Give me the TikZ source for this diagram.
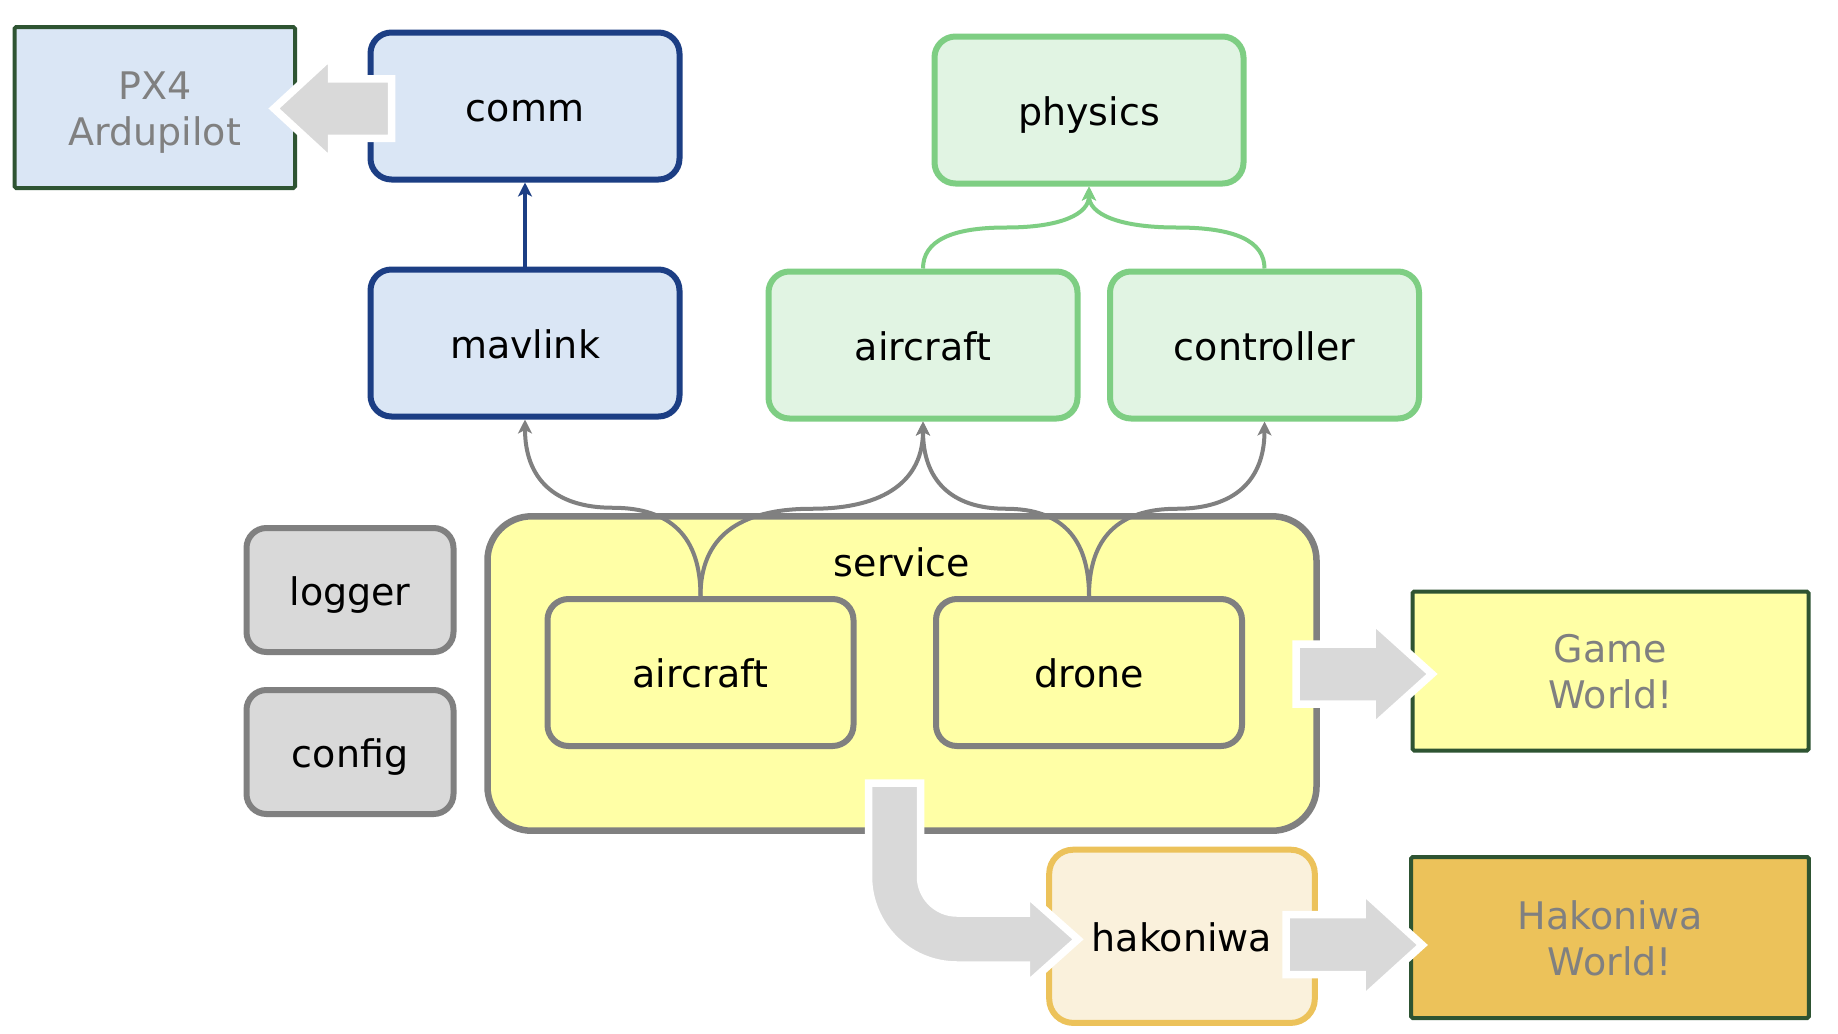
\documentclass[tikz,border=0pt]{standalone}
\usepackage{fontspec}
\usetikzlibrary{calc,arrows.meta}
\newfontfamily\dvs{DejaVu Sans}
\definecolor{blueS}{RGB}{28,62,132}
\definecolor{blueF}{RGB}{218,230,245}
\definecolor{greenS}{RGB}{126,206,131}
\definecolor{greenF}{RGB}{225,244,227}
\definecolor{yelF}{RGB}{255,255,166}
\definecolor{grayS}{RGB}{128,128,128}
\definecolor{grayF}{RGB}{217,217,217}
\definecolor{hakS}{RGB}{236,194,90}
\definecolor{hakF}{RGB}{250,241,220}
\definecolor{hwF}{RGB}{236,194,90}
\definecolor{dgreen}{RGB}{46,84,50}
\definecolor{txtgray}{RGB}{128,128,128}
\begin{document}
\begin{tikzpicture}[x=0.5pt,y=-0.5pt,
  every node/.style={font=\dvs\fontsize{19pt}{23pt}\selectfont, inner sep=2pt},
  lbl/.style={text height=17pt, text depth=2pt},
  rbox/.style={draw, lbl, line width=3pt, rounded corners=10.5pt,
    minimum width=154.5pt, minimum height=73.5pt},
  bbox/.style={rbox, draw=blueS, fill=blueF},
  gbox/.style={rbox, draw=greenS, fill=greenF},
  ybox/.style={rbox, draw=grayS, fill=yelF, minimum width=153pt},
  graybox/.style={rbox, draw=grayS, fill=grayF, rounded corners=10pt,
    minimum width=103.5pt, minimum height=62pt},
  svcbox/.style={draw=grayS, fill=yelF, line width=3.25pt, rounded corners=22pt,
    minimum width=414.5pt, minimum height=157.2pt},
  hakbox/.style={rbox, draw=hakS, fill=hakF, rounded corners=12pt,
    minimum width=132.8pt, minimum height=86.6pt},
  sqbox/.style={draw=dgreen, line width=2pt, rounded corners=0.8pt},
  gtext/.style={text=txtgray, align=center, anchor=base},
  tipa/.tip={Stealth[length=7pt,width=7pt,inset=1.8pt]},
  gconn/.style={draw=grayS, line width=2pt, -tipa},
  grconn/.style={draw=greenS, line width=2pt, -tipa},
  bconn/.style={draw=blueS, line width=2pt, -tipa},
  fat/.style={fill=grayF, draw=white, line width=3.75pt, line join=miter, miter limit=10},
  orth/.style={to path={
    let \p1=(\tikztostart), \p2=(\tikztotarget) in
    .. controls (\x1,{\y1+(\y2-\y1)/3}) and ({(\x1+\x2)/2+(\x1-\x2)/3},{(\y1+\y2)/2}) ..
    ({(\x1+\x2)/2},{(\y1+\y2)/2})
    .. controls ({(\x1+\x2)/2+(\x2-\x1)/3},{(\y1+\y2)/2}) and (\x2,{\y2+(\y1-\y2)/3}) ..
    (\tikztotarget) \tikztonodes}}
]
\useasboundingbox (0,0) rectangle (1838,1034);
\fill[white] (0,0) rectangle (1838,1034);

% boxes
\node[sqbox, fill=blueF, minimum width=140.25pt, minimum height=80.5pt] (px4) at (154.75,107.5) {};
\node[gtext] (px4t) at ($(px4.center)+(0,37.5)$) {PX4\\Ardupilot};
\node[bbox] (comm) at (525,106) {comm};
\node[bbox] (mav) at (525,343) {mavlink};
\node[gbox] (phys) at (1089,110) {physics};
\node[gbox] (gair) at (923,345) {aircraft};
\node[gbox] (ctrl) at (1264.5,345) {controller};
\node[graybox] (logger) at (350,590) {logger};
\node[graybox] (config) at (350,752) {config};
\node[svcbox] (svc) at (902,673.5) {};
\node[lbl] (svclbl) at (902,561.7) {service};
\node[ybox] (sair) at (700.5,672.5) {aircraft};
\node[ybox] (drone) at (1089,672.5) {drone};
\node[hakbox] (hak) at (1182,936.3) {hakoniwa};
\node[sqbox, fill=yelF, minimum width=198pt, minimum height=79.5pt] (game) at (1610.5,671) {};
\node[gtext] (gamet) at ($(game.center)+(0,37.5)$) {Game\\World!};
\node[sqbox, fill=hwF, minimum width=198.8pt, minimum height=80.5pt] (hw) at (1610,937.5) {};
\node[gtext] (hwt) at ($(hw.center)+(0,37.5)$) {Hakoniwa\\World!};

% connectors
\draw[bconn] (mav.north) -- (comm.south);
\draw[grconn] (gair.north) to[orth] (phys.south);
\draw[grconn] (ctrl.north) to[orth] (phys.south);
\draw[gconn] (sair.north) to[orth] (mav.south);
\draw[gconn] (sair.north) to[orth] (gair.south);
\draw[gconn] (drone.north) to[orth] (gair.south);
\draw[gconn] (drone.north) to[orth] (ctrl.south);

% fat arrows
\draw[fat] (391.5,78.75) -- (331.5,78.75) -- (331.5,55.5) -- (274,108.5) -- (331.5,161.5)
  -- (331.5,138.25) -- (391.5,138.25) -- cycle;
\draw[fat] (1296,644) -- (1372,644) -- (1372,620) -- (1432,674) -- (1372,728)
  -- (1372,704) -- (1296,704) -- cycle;
\draw[fat] (1286,914.5) -- (1362,914.5) -- (1362,890.2) -- (1422.3,945) -- (1362,999.7)
  -- (1362,974.7) -- (1286,974.7) -- cycle;
\draw[fat] (868.5,783) -- (868.5,876.5) arc[start angle=180, end angle=90, radius=88.5]
  -- (1026.3,965) -- (1026.3,985.5) -- (1078,939.3) -- (1026.3,893.5) -- (1026.3,913)
  -- (957,913) arc[start angle=90, end angle=180, radius=36.5] -- (920.5,783) -- cycle;
\end{tikzpicture}
\end{document}
